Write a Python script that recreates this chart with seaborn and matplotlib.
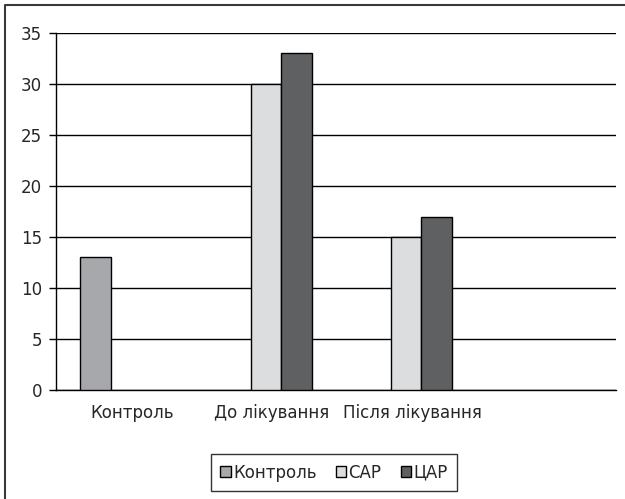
import pandas as pd
import matplotlib
matplotlib.use("Agg")
import matplotlib.pyplot as plt
import matplotlib.transforms as mtransforms
from matplotlib.patches import Patch
from matplotlib.lines import Line2D
import seaborn as sns

CATEGORIES = ["Контроль", "До лікування", "Після лікування", " "]
SERIES = ["Контроль", "САР", "ЦАР"]
COLORS = ["#a7a8ab", "#dcdddf", "#5f6062"]

bar_category = ["Контроль", "До лікування", "До лікування", "Після лікування", "Після лікування"]
bar_series = ["Контроль", "САР", "ЦАР", "САР", "ЦАР"]
bar_values = [13, 30, 33, 15, 17]

df = pd.DataFrame({"category": bar_category, "series": bar_series, "value": bar_values})

NARROW = ["Liberation Sans Narrow", "DejaVu Sans"]

sns.set_style("white")
plt.rcParams["font.family"] = ["Liberation Sans", "DejaVu Sans"]

fig = plt.figure(figsize=(6.25, 4.99), dpi=100)
ax = fig.add_axes([56 / 625, 1 - 390 / 499, (616 - 56) / 625, (390 - 33) / 499])

sns.barplot(
    data=df, x="category", y="value", hue="series",
    order=CATEGORIES, hue_order=SERIES, palette=COLORS,
    width=0.664, edgecolor="black", linewidth=1, saturation=1,
    legend=False, ax=ax, zorder=3
)

ax.set_ylim(0, 35)
ax.set_xlim(-0.5, len(CATEGORIES) - 0.5)
ax.set_yticks(range(0, 36, 5))
ax.set_yticklabels([str(v) for v in range(0, 36, 5)], family=["DejaVu Sans"], fontsize=12)
ax.yaxis.grid(True, color="black", linewidth=1)
ax.set_axisbelow(True)
ax.set_xlabel("")
ax.set_ylabel("")
for side in ["top", "right"]:
    ax.spines[side].set_visible(False)
for side in ["left", "bottom"]:
    ax.spines[side].set_color("black")
    ax.spines[side].set_linewidth(1)

# category labels near the centres, tick marks on the boundaries
ax.set_xticks(range(len(CATEGORIES)))
ax.set_xticklabels(CATEGORIES, fontsize=12, family=NARROW)
ax.tick_params(axis="x", length=0, pad=10)
shift = mtransforms.ScaledTranslation(6 / 100, 0, fig.dpi_scale_trans)
for lbl in ax.get_xticklabels():
    lbl.set_transform(lbl.get_transform() + shift)
ax.set_xticks([i - 0.5 for i in range(len(CATEGORIES) + 1)], minor=True)
ax.tick_params(axis="x", which="minor", length=5, width=1, color="black", direction="out")
ax.tick_params(axis="y", length=5, width=1, color="black", direction="out", pad=5)
ax.tick_params(left=True, bottom=True)

handles = [Patch(facecolor=c, edgecolor="black", linewidth=1) for c in COLORS]
leg = fig.legend(
    handles, SERIES, loc="center", bbox_to_anchor=(334 / 625, 1 - 472.5 / 499),
    ncol=3, frameon=True, fancybox=False, edgecolor="black",
    handlelength=0.65, handleheight=0.65, handletextpad=0.12, columnspacing=1.15,
    borderpad=0.55, borderaxespad=0,
    prop={"family": NARROW, "size": 12}
)
leg.get_frame().set_linewidth(1)

# outer frame, only top and left edges visible
fig.add_artist(Line2D([5 / 625, 5 / 625, 1], [0, 1 - 5 / 499, 1 - 5 / 499],
                      transform=fig.transFigure, color="#3a3a3a", linewidth=1.5))

fig.savefig("out.png", dpi=100)
